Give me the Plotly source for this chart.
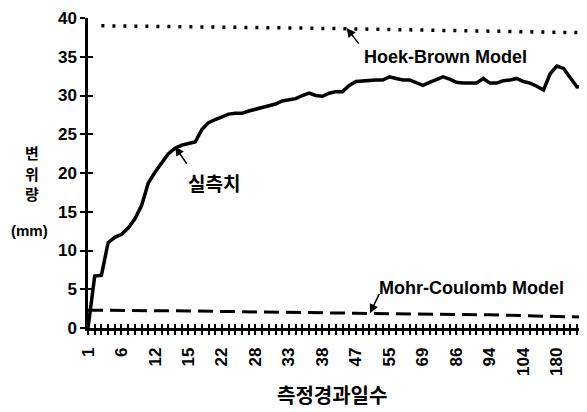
import plotly.graph_objects as go

# ---- data ----
tick_labels = ["1", "6", "12", "15", "22", "28", "33", "38", "47", "55", "69", "86", "94", "104", "180"]
measured = [0.0, 6.7, 6.8, 11.0, 11.7, 12.1, 12.9, 14.1, 15.8, 18.7,
            20.1, 21.3, 22.5, 23.2, 23.6, 23.8, 24.0, 25.6, 26.5, 26.9,
            27.3, 27.6, 27.7, 27.7, 28.0, 28.2, 28.4, 28.6, 28.9, 29.3,
            29.5, 29.6, 30.0, 30.3, 30.0, 29.9, 30.3, 30.5, 30.5, 31.3,
            31.8, 31.9, 31.9, 32.0, 32.0, 32.4, 32.2, 32.0, 32.0, 31.6,
            31.3, 31.7, 32.0, 32.4, 32.1, 31.7, 31.6, 31.6, 31.6, 32.2,
            31.6, 31.6, 31.9, 32.0, 32.2, 31.8, 31.6, 31.2, 30.7, 32.8,
            33.8, 33.5, 32.3, 31.1, 31.2]
hb_idx = [2, 32, 74]
hoek_brown = [39.0, 38.7, 38.1]
mc_idx = [0, 15, 40, 60, 74]
mohr_coulomb = [2.3, 2.2, 1.9, 1.7, 1.4]
y_ticks = [0, 5, 10, 15, 20, 25, 30, 35, 40]

n = len(measured)
idx = list(range(n))
label_step = 5
tickvals = [i * label_step for i in range(len(tick_labels))]

FONT = "Liberation Sans, Arial, sans-serif"
KFONT = "Noto Sans CJK KR, sans-serif"

fig = go.Figure()
fig.add_trace(go.Scatter(x=hb_idx, y=hoek_brown, mode="lines",
                         line=dict(color="black", width=3.5, dash="3px,8px"),
                         hoverinfo="skip", showlegend=False))
fig.add_trace(go.Scatter(x=mc_idx, y=mohr_coulomb, mode="lines",
                         line=dict(color="black", width=3, dash="15px,7px"),
                         hoverinfo="skip", showlegend=False))
fig.add_trace(go.Scatter(x=idx, y=measured, mode="lines",
                         line=dict(color="black", width=3.5),
                         hoverinfo="skip", showlegend=False))

xr = [0, n - 0.5]
fig.update_layout(
    width=579, height=404,
    margin=dict(l=80, r=0, t=10, b=84),
    paper_bgcolor="white", plot_bgcolor="white",
    font=dict(family=FONT, color="black"),
    xaxis=dict(range=xr, showgrid=False, zeroline=False,
               showline=True, linecolor="black", linewidth=2.5,
               tickvals=tickvals, ticktext=tick_labels, tickangle=-90,
               ticks="outside", ticklen=4, tickwidth=1.5, tickcolor="black",
               ticklabelstandoff=6,
               minor=dict(dtick=1, tick0=0, ticks="outside", ticklen=4, tickwidth=1.5, tickcolor="black"),
               tickfont=dict(size=17, family=FONT, weight="bold")),
    xaxis2=dict(range=xr, overlaying="x", side="bottom", anchor="y",
                showgrid=False, zeroline=False, showline=False,
                tickvals=idx, ticks="inside", ticklen=4, tickwidth=1.5, tickcolor="black",
                showticklabels=False),
    yaxis=dict(range=[0, 40], showgrid=False, zeroline=False,
               showline=True, linecolor="black", linewidth=2.5,
               tickvals=y_ticks, ticks="outside", ticklen=5, tickwidth=1.5, tickcolor="black",
               tickfont=dict(size=17, family=FONT, weight="bold")),
    yaxis2=dict(range=[0, 40], overlaying="y", side="left", anchor="x",
                showgrid=False, zeroline=False, showline=False,
                tickvals=y_ticks, ticks="inside", ticklen=5, tickwidth=1.5, tickcolor="black",
                showticklabels=False),
)
# trace to activate overlay axes
fig.add_trace(go.Scatter(x=[None], y=[None], xaxis="x2", yaxis="y2", showlegend=False))

arrows = [
    (38.6, 38.7, 40.6, 36.5),
    (13.0, 23.4, 14.9, 21.0),
    (42.1, 1.9, 43.6, 4.6),
]
for hx, hy, tx, ty in arrows:
    fig.add_annotation(x=hx, y=hy, ax=tx, ay=ty, xref="x", yref="y", axref="x", ayref="y",
                       text="", showarrow=True, arrowhead=2, arrowsize=1.2, arrowwidth=1.5,
                       arrowcolor="black")

fig.add_annotation(x=53.4, y=35.0, xref="x", yref="y", text="Hoek-Brown Model", showarrow=False,
                   xanchor="center", font=dict(size=18, family=FONT, weight="bold"))
fig.add_annotation(x=18.8, y=18.8, xref="x", yref="y", text="실측치", showarrow=False,
                   xanchor="center", font=dict(size=19, family=KFONT, weight="bold"))
fig.add_annotation(x=57.2, y=5.2, xref="x", yref="y", text="Mohr-Coulomb Model", showarrow=False,
                   xanchor="center", font=dict(size=18, family=FONT, weight="bold"))
for ch, yv in zip(["변", "위", "량"], [22.7, 20.0, 17.3]):
    fig.add_annotation(x=-0.112, y=yv, xref="paper", yref="y", text=ch, showarrow=False,
                       xanchor="center", yanchor="middle",
                       font=dict(size=15, family=KFONT, weight="bold"))
fig.add_annotation(x=-0.118, y=12.6, xref="paper", yref="y", text="(mm)", showarrow=False,
                   xanchor="center", font=dict(size=15, family=FONT, weight="bold"))
fig.add_annotation(x=0.489, y=-0.216, xref="paper", yref="paper", text="측정경과일수", showarrow=False,
                   xanchor="center", yanchor="middle", font=dict(size=20, family=KFONT, weight="bold"))

fig.write_html("out.html")
